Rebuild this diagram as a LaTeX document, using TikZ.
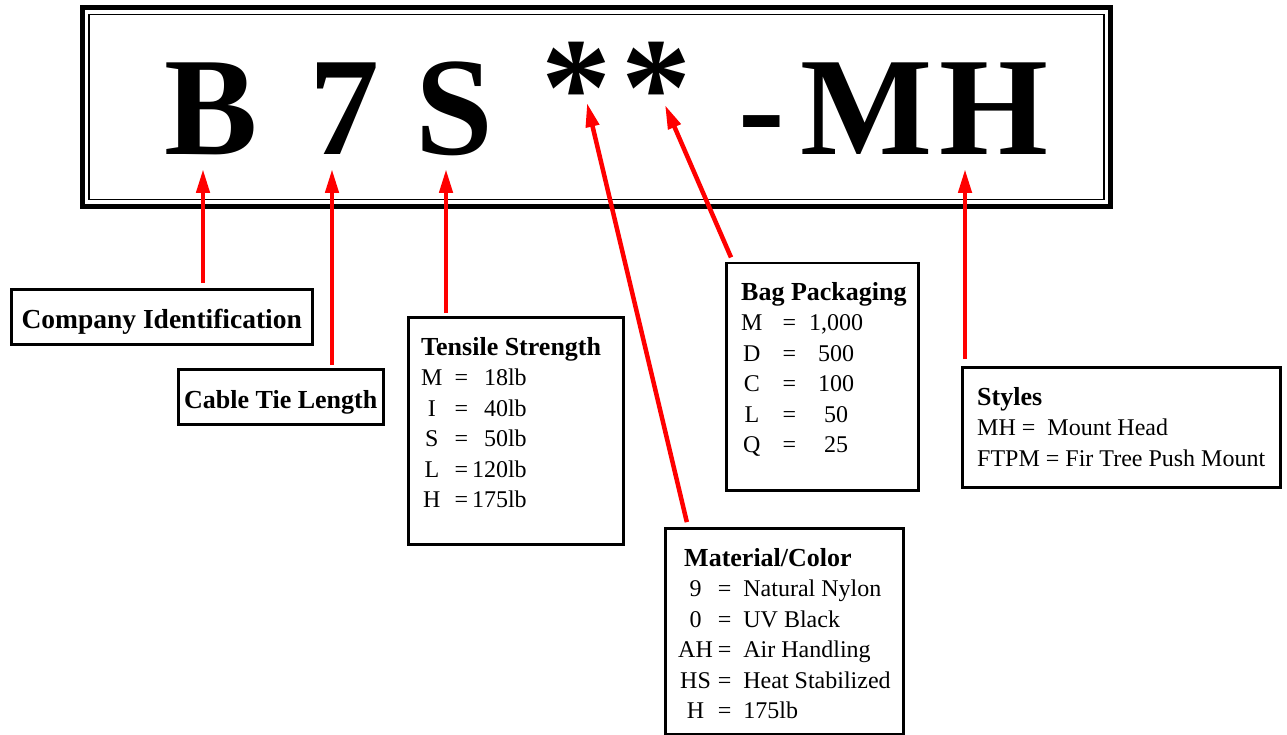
\documentclass[tikz,border=0pt]{standalone}
\usepackage{fontspec}
\setmainfont{Liberation Serif}
\usetikzlibrary{arrows.meta, positioning}

\begin{document}
\begin{tikzpicture}[x=1pt, y=-1pt,
    keybox/.style={draw, line width=2.5pt, inner sep=0pt, anchor=north west},
    keytitle/.style={keybox, font=\fontsize{26}{30}\bfseries\selectfont, text height=39pt, text depth=16pt},
    keytext/.style={inner sep=0pt, anchor=north west, font=\fontsize{24}{30.5}\selectfont},
    bigchar/.style={inner sep=0pt, anchor=base, font=\fontsize{140}{140}\bfseries\selectfont},
    keyarrow/.style={red, line width=4.5pt, -{Triangle[length=24pt, width=13pt]}}]

    \useasboundingbox (0,0) rectangle (1287,735);

    % Part number plate
    \draw[line width=5pt] (82.5,8) rectangle (1110.5,206.5);
    \draw[line width=1.8pt] (89,14.5) rectangle (1104,199.5);

    \foreach \ch/\cx [count=\i] in {B/211, 7/344, S/454, -/762, M/867, H/994}
        \node[bigchar] (char\i) at (\cx,155) {\ch};
    \node[bigchar] (star1) at (576,135) {*};
    \node[bigchar] (star2) at (656,135) {*};

    % Arrow tips under the plate characters
    \coordinate (tipB) at (203,169);
    \coordinate (tipLen) at (332,169);
    \coordinate (tipStr) at (446,169);
    \coordinate (tipMat) at (587,103);
    \coordinate (tipBag) at (665,105);
    \coordinate (tipSty) at (965,169);

    % Key boxes
    \node[keytitle, minimum width=301pt, font=\fontsize{27.5}{30}\bfseries\selectfont] (company) at (10,288) {Company Identification};
    \node[keytitle, minimum width=205pt] (length) at (177,368) {Cable Tie Length};
    \node[keybox, minimum width=215pt, minimum height=227pt] (tensile) at (407,316) {};
    \node[keybox, minimum width=192pt, minimum height=227pt] (bag) at (725,262) {};
    \node[keybox, minimum width=238pt, minimum height=206pt] (material) at (664,527) {};
    \node[keybox, minimum width=318pt, minimum height=120pt] (styles) at (961,366) {};

    \node[keytext] (tensiletext) at ([shift={(14pt,-17.6pt)}]tensile.north west)
      {\begin{tabular}{@{}c@{\hspace{12pt}}c@{\hspace{4pt}}r@{}l@{}}
        \multicolumn{4}{@{}l@{}}{\fontsize{26}{30.5}\bfseries\selectfont Tensile Strength}\\
        M & = & 18lb &\\ I & = & 40lb &\\ S & = & 50lb &\\ L & = & 120lb &\\ H & = & 175lb &
      \end{tabular}};
    \node[keytext] (bagtext) at ([shift={(16pt,-16.6pt)}]bag.north west)
      {\begin{tabular}{@{}c@{\hspace{20pt}}c@{\hspace{13pt}}c@{}l@{}}
        \multicolumn{4}{@{}l@{}}{\fontsize{26}{30.5}\bfseries\selectfont Bag Packaging}\\
        M & = & 1,000 &\\ D & = & 500 &\\ C & = & 100 &\\ L & = & 50 &\\ Q & = & 25 &
      \end{tabular}};
    \node[keytext] (materialtext) at ([shift={(14pt,-17.6pt)}]material.north west)
      {\begin{tabular}{@{}c@{\hspace{5pt}}c@{\hspace{12pt}}l@{}l@{}}
        \multicolumn{4}{@{\hspace{6pt}}l@{}}{\fontsize{26}{30.5}\bfseries\selectfont Material/Color}\\
        9 & = & Natural Nylon &\\ 0 & = & UV Black &\\ AH & = & Air Handling &\\
        HS & = & Heat Stabilized &\\ H & = & 175lb &
      \end{tabular}};
    \node[keytext] (stylestext) at ([shift={(16pt,-17.6pt)}]styles.north west)
      {\begin{tabular}{@{}l@{}}
        {\fontsize{26}{30.5}\bfseries\selectfont Styles}\\
        MH =\ \ Mount Head\\ FTPM = Fir Tree Push Mount
      \end{tabular}};

    % Pointers
    \draw[keyarrow, shorten <=5pt] (company.north -| tipB) -- (tipB);
    \draw[keyarrow, shorten <=3pt] (length.north -| tipLen) -- (tipLen);
    \draw[keyarrow, shorten <=3pt] (tensile.north -| tipStr) -- (tipStr);
    \draw[keyarrow, shorten <=5pt] ([xshift=24pt]material.north west) -- (tipMat);
    \draw[keyarrow, shorten <=5pt] ([xshift=8pt]bag.north west) -- (tipBag);
    \draw[keyarrow, shorten <=7pt] (styles.north -| tipSty) -- (tipSty);
\end{tikzpicture}
\end{document}
